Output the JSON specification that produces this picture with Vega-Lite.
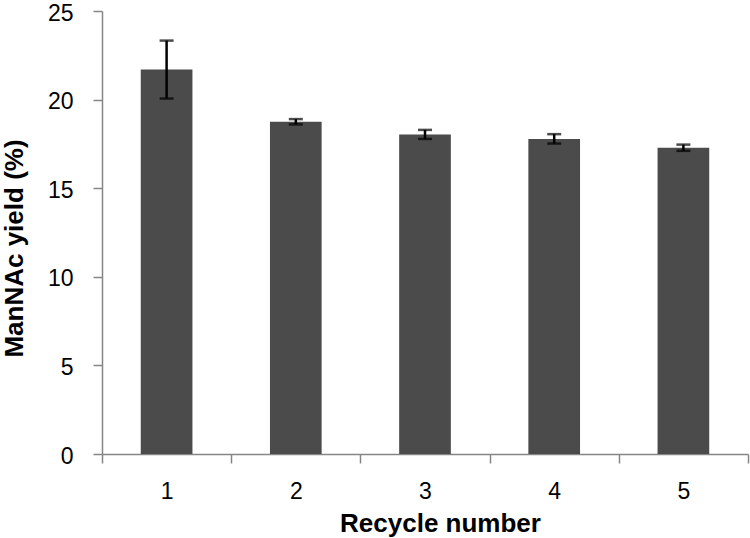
{
  "$schema": "https://vega.github.io/schema/vega-lite/v6.json",
  "width": 646,
  "height": 443,
  "autosize": "none",
  "padding": {"left": 102, "top": 11, "right": 2, "bottom": 84},
  "config": {
    "view": {"stroke": null},
    "axis": {"grid": false, "labelFont": "Liberation Sans", "titleFont": "Liberation Sans", "labelColor": "black", "titleColor": "black", "domainColor": "#868686", "tickColor": "#868686", "domainWidth": 1.5, "tickWidth": 1.5}
  },
  "data": {
    "values": [
      {"cycle": "1", "yield": 21.7, "lo": 20.06, "hi": 23.33},
      {"cycle": "2", "yield": 18.75, "lo": 18.6, "hi": 18.9},
      {"cycle": "3", "yield": 18.03, "lo": 17.78, "hi": 18.29},
      {"cycle": "4", "yield": 17.78, "lo": 17.52, "hi": 18.05},
      {"cycle": "5", "yield": 17.28, "lo": 17.11, "hi": 17.46}
    ]
  },
  "encoding": {
    "x": {
      "field": "cycle",
      "type": "ordinal",
      "scale": {"paddingInner": 0, "paddingOuter": 0},
      "axis": {
        "title": "Recycle number",
        "labelAngle": 0,
        "labelFontSize": 23,
        "tickBand": "extent",
        "tickSize": 9,
        "labelPadding": 17,
        "titleFontSize": 26,
        "titleFontWeight": "bold",
        "titleX": 338,
        "titleY": 77,
        "titleBaseline": "alphabetic",
        "titleAlign": "center"
      }
    }
  },
  "layer": [
    {
      "mark": {"type": "bar", "color": "#4b4b4b", "width": {"band": 0.4}},
      "encoding": {
        "y": {
          "field": "yield",
          "type": "quantitative",
          "title": "ManNAc yield (%)",
          "scale": {"domain": [0, 25], "nice": false},
          "axis": {
            "values": [0, 5, 10, 15, 20, 25],
            "labelFontSize": 23,
            "labelOffset": 2,
            "labelFlush": false,
            "tickSize": 9,
            "labelPadding": 20,
            "titleFontSize": 26,
            "titleFontWeight": "bold",
            "titleAngle": -90,
            "titleX": -80,
            "titleY": 237,
            "titleBaseline": "alphabetic",
            "titleAlign": "center"
          }
        }
      }
    },
    {
      "mark": {"type": "rule", "strokeWidth": 2.5, "color": "black"},
      "encoding": {
        "y": {"field": "lo", "type": "quantitative", "title": "ManNAc yield (%)"},
        "y2": {"field": "hi"}
      }
    },
    {
      "mark": {"type": "tick", "thickness": 2.5, "size": 14, "color": "black"},
      "encoding": {"y": {"field": "lo", "type": "quantitative", "title": "ManNAc yield (%)"}}
    },
    {
      "mark": {"type": "tick", "thickness": 2.5, "size": 14, "color": "black"},
      "encoding": {"y": {"field": "hi", "type": "quantitative", "title": "ManNAc yield (%)"}}
    }
  ]
}
